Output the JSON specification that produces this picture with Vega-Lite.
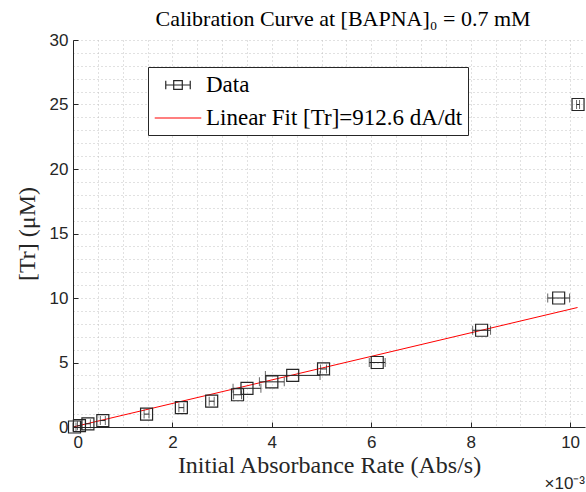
{
  "$schema": "https://vega.github.io/schema/vega-lite/v6.json",
  "width": 512,
  "height": 387,
  "autosize": {"type": "none"},
  "padding": {"left": 73, "top": 40, "right": 1, "bottom": 65},
  "background": "white",
  "config": {
    "view": {"stroke": null},
    "axis": {
      "labelFont": "Liberation Sans",
      "labelFontSize": 17,
      "labelColor": "#262626",
      "titleFont": "Liberation Serif",
      "titleFontSize": 24,
      "titleFontWeight": "normal",
      "titleColor": "#262626",
      "domainColor": "#262626",
      "tickColor": "#262626",
      "gridColor": "#bdbdbd",
      "gridDash": [1, 3],
      "gridOpacity": 0.9
    }
  },
  "title": {
    "text": "Calibration Curve at [BAPNA]₀ = 0.7 mM",
    "font": "Liberation Serif",
    "fontSize": 22,
    "fontWeight": "normal",
    "color": "#000000",
    "anchor": "middle",
    "dx": 14,
    "offset": 0
  },
  "datasets": {
    "pts": [
      {"x": 0.00003, "y": 0, "xlo": 0.0, "xhi": 0.00006, "series": "Data"},
      {"x": 0.00013, "y": 0.1, "xlo": 0.00009, "xhi": 0.00017, "series": "Data"},
      {"x": 0.0003, "y": 0.25, "xlo": 0.00025, "xhi": 0.00035, "series": "Data"},
      {"x": 0.0006, "y": 0.5, "xlo": 0.00055, "xhi": 0.00065, "series": "Data"},
      {"x": 0.00148, "y": 1.0, "xlo": 0.00143, "xhi": 0.00153, "series": "Data"},
      {"x": 0.00218, "y": 1.5, "xlo": 0.00213, "xhi": 0.00223, "series": "Data"},
      {"x": 0.00279, "y": 2.0, "xlo": 0.00274, "xhi": 0.00284, "series": "Data"},
      {"x": 0.00331, "y": 2.5, "xlo": 0.00323, "xhi": 0.00339, "series": "Data"},
      {"x": 0.0035, "y": 3.0, "xlo": 0.00322, "xhi": 0.00378, "series": "Data"},
      {"x": 0.0040, "y": 3.5, "xlo": 0.00375, "xhi": 0.00425, "series": "Data"},
      {"x": 0.00442, "y": 4.0, "xlo": 0.00387, "xhi": 0.00497, "series": "Data"},
      {"x": 0.00504, "y": 4.5, "xlo": 0.00498, "xhi": 0.0051, "series": "Data"},
      {"x": 0.00612, "y": 5.0, "xlo": 0.00596, "xhi": 0.00628, "series": "Data"},
      {"x": 0.00822, "y": 7.5, "xlo": 0.00804, "xhi": 0.0084, "series": "Data"},
      {"x": 0.00977, "y": 10.0, "xlo": 0.00955, "xhi": 0.00999, "series": "Data"},
      {"x": 0.01016, "y": 25.0, "xlo": 0.01013, "xhi": 0.01019, "series": "Data"}
    ],
    "fit": [
      {"x": 0.0, "y": 0.0, "series": "Linear Fit [Tr]=912.6 dA/dt"},
      {"x": 0.01015, "y": 9.263, "series": "Linear Fit [Tr]=912.6 dA/dt"}
    ]
  },
  "encoding": {
    "x": {
      "type": "quantitative",
      "scale": {"domain": [0, 0.0103], "nice": false, "zero": false},
      "axis": {
        "title": "Initial Absorbance Rate (Abs/s)",
        "values": [0,0.0005,0.001,0.0015,0.002,0.0025,0.003,0.0035,0.004,0.0045,0.005,0.0055,0.006,0.0065,0.007,0.0075,0.008,0.0085,0.009,0.0095,0.01],
        "labelExpr": "round(datum.value*2000) % 4 === 0 ? format(datum.value*1000, 'd') : ''",
        "tickOpacity": {"condition": {"test": "round(datum.value*2000) % 4 === 0", "value": 1}, "value": 0},
        "tickSize": -5,
        "labelPadding": 12,
        "titlePadding": 3,
        "grid": true
      }
    },
    "y": {
      "type": "quantitative",
      "scale": {"domain": [0, 30], "nice": false},
      "axis": {
        "title": "[Tr] (μM)",
        "values": [0,1,2,3,4,5,6,7,8,9,10,11,12,13,14,15,16,17,18,19,20,21,22,23,24,25,26,27,28,29,30],
        "labelExpr": "datum.value % 5 === 0 ? datum.value : ''",
        "tickOpacity": {"condition": {"test": "datum.value % 5 === 0", "value": 1}, "value": 0},
        "tickSize": -5,
        "labelPadding": 10,
        "titlePadding": 10,
        "grid": true
      }
    }
  },
  "layer": [
    {
      "data": {"name": "fit"},
      "mark": {"type": "line", "strokeWidth": 1},
      "encoding": {
        "x": {"field": "x"},
        "y": {"field": "y"},
        "color": {
          "field": "series",
          "type": "nominal",
          "scale": {"domain": ["Data", "Linear Fit [Tr]=912.6 dA/dt"], "range": ["#262626", "#ff0000"]},
          "legend": {
            "title": null,
            "orient": "none",
            "legendX": 75,
            "legendY": 27,
            "fillColor": "white",
            "strokeColor": "#262626",
            "padding": 5,
            "labelFont": "Liberation Serif",
            "labelFontSize": 23,
            "labelColor": "#000000",
            "labelOffset": 15,
            "symbolSize": 600,
            "symbolOffset": 12,
            "rowPadding": 8,
            "labelLimit": 400,
            "encode": {
              "symbols": {
                "update": {
                  "shape": {"signal": "datum.value === 'Data' ? 'M-1,0H1M-1,-0.35V0.35M1,-0.35V0.35M-0.35,-0.35H0.35V0.35H-0.35Z' : 'M-1.9,0H1.9'"},
                  "size": {"value": 600},
                  "stroke": {"signal": "datum.value === 'Data' ? '#262626' : '#ff0000'"},
                  "strokeWidth": {"value": 1.2},
                  "fill": {"value": "transparent"},
                  "opacity": {"value": 1}
                }
              }
            }
          }
        }
      }
    },
    {
      "data": {"name": "pts"},
      "mark": {"type": "rule", "color": "#262626", "strokeWidth": 1},
      "encoding": {"x": {"field": "xlo"}, "x2": {"field": "xhi"}, "y": {"field": "y"}}
    },
    {
      "data": {"name": "pts"},
      "mark": {"type": "tick", "orient": "vertical", "color": "#262626", "size": 9, "thickness": 1},
      "encoding": {"x": {"field": "xlo"}, "y": {"field": "y"}}
    },
    {
      "data": {"name": "pts"},
      "mark": {"type": "tick", "orient": "vertical", "color": "#262626", "size": 9, "thickness": 1},
      "encoding": {"x": {"field": "xhi"}, "y": {"field": "y"}}
    },
    {
      "data": {"name": "pts"},
      "mark": {"type": "point", "shape": "square", "filled": false, "size": 144, "strokeWidth": 1.2, "opacity": 1},
      "encoding": {
        "x": {"field": "x"},
        "y": {"field": "y"},
        "color": {"field": "series", "type": "nominal"}
      }
    },
    {
      "data": {"values": [{"label": "×10⁻³"}]},
      "mark": {"type": "text", "font": "Liberation Sans", "fontSize": 17, "color": "#262626", "align": "right", "baseline": "bottom", "dy": 66},
      "encoding": {
        "x": {"datum": 0.0103},
        "y": {"datum": 0},
        "text": {"field": "label"}
      }
    }
  ]
}
